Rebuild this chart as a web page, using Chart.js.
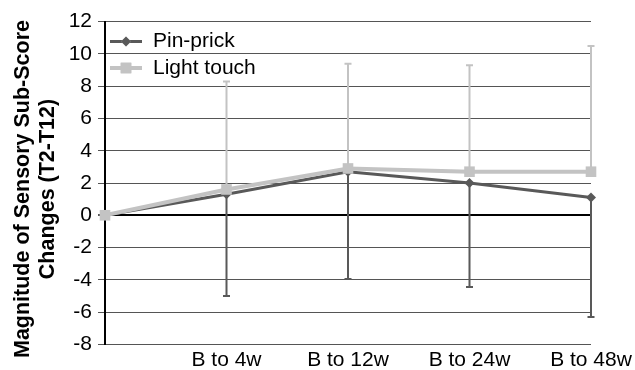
<!DOCTYPE html>
<html>
<head>
<meta charset="utf-8">
<script src="https://cdn.jsdelivr.net/npm/chart.js@4.4.1/dist/chart.umd.min.js"></script>
<style>
  html, body { margin: 0; padding: 0; background: #fff; }
  #wrap { width: 635px; height: 370px; position: relative; }
</style>
</head>
<body>
<div id="wrap"><canvas id="chart" width="635" height="370"></canvas></div>
<script>
// Time points (first one is the baseline, unlabeled)
const categories = ['', 'B to 4w', 'B to 12w', 'B to 24w', 'B to 48w'];

// Mean change in sensory sub-score (T2-T12)
const pinPrick   = [0, 1.3, 2.7, 2.0, 1.1];
const lightTouch = [0, 1.6, 2.9, 2.7, 2.7];

// Standard deviations (pin-prick drawn downward, light touch drawn upward)
const pinPrickSD   = [null, 6.3, 6.65, 6.45, 7.4];
const lightTouchSD = [null, 6.7, 6.5, 6.6, 7.8];

// Y axis range
const yMin = -8, yMax = 12, yStep = 2;

const FONT = "'Liberation Sans', Arial, Helvetica, sans-serif";
const DARK = '#595959';
const LIGHT = '#c3c3c3';

// One-sided error bars
const errorBars = {
  id: 'errorBars',
  beforeDatasetsDraw(chart) {
    const ctx = chart.ctx;
    const x = chart.scales.x, y = chart.scales.y;
    const draw = (vals, sds, dir, color) => {
      ctx.save();
      ctx.strokeStyle = color;
      ctx.lineWidth = 2;
      vals.forEach((v, i) => {
        if (sds[i] == null) return;
        const px = x.getPixelForValue(i);
        const p0 = y.getPixelForValue(v);
        const p1 = y.getPixelForValue(v + dir * sds[i]);
        ctx.beginPath();
        ctx.moveTo(px, p0); ctx.lineTo(px, p1);
        ctx.moveTo(px - 3.5, p1); ctx.lineTo(px + 3.5, p1);
        ctx.stroke();
      });
      ctx.restore();
    };
    draw(lightTouch, lightTouchSD, 1, LIGHT);
    draw(pinPrick, pinPrickSD, -1, DARK);
  }
};

// Legend inside the plot and the two-line y axis title
const decorations = {
  id: 'decorations',
  afterDraw(chart) {
    const ctx = chart.ctx;
    ctx.save();
    // y axis title
    ctx.fillStyle = '#000';
    ctx.font = 'bold 21.5px ' + FONT;
    ctx.textAlign = 'center';
    ctx.textBaseline = 'middle';
    ctx.translate(36, 189);
    ctx.rotate(-Math.PI / 2);
    ctx.fillText('Magnitude of Sensory Sub-Score', 0, -12.5);
    ctx.fillText('Changes (T2-T12)', 0, 12.5);
    ctx.restore();

    // legend entries
    const rows = [{ ds: chart.data.datasets[0], y: 41.5 }, { ds: chart.data.datasets[1], y: 68 }];
    rows.forEach(r => {
      const ds = r.ds;
      ctx.save();
      ctx.strokeStyle = ds.borderColor;
      ctx.lineWidth = ds.borderWidth;
      ctx.beginPath();
      ctx.moveTo(110, r.y); ctx.lineTo(142, r.y);
      ctx.stroke();
      Chart.helpers.drawPoint(ctx, {
        pointStyle: ds.pointStyle,
        radius: ds.pointRadius,
        borderWidth: 0
      }, 126, r.y);
      ctx.fillStyle = ds.pointBackgroundColor;
      ctx.fill();
      ctx.fillStyle = '#000';
      ctx.font = '21px ' + FONT;
      ctx.textAlign = 'left';
      ctx.textBaseline = 'middle';
      ctx.fillText(ds.label, 153, r.y);
      ctx.restore();
    });
  }
};

new Chart(document.getElementById('chart'), {
  type: 'line',
  data: {
    labels: categories,
    datasets: [
      {
        label: 'Pin-prick',
        data: pinPrick,
        borderColor: DARK,
        backgroundColor: DARK,
        pointBackgroundColor: DARK,
        pointBorderColor: DARK,
        borderWidth: 3,
        pointStyle: 'rectRot',
        pointRadius: 5,
        pointBorderWidth: 0,
        order: 1,
        clip: false
      },
      {
        label: 'Light touch',
        data: lightTouch,
        borderColor: LIGHT,
        backgroundColor: LIGHT,
        pointBackgroundColor: LIGHT,
        pointBorderColor: LIGHT,
        borderWidth: 4,
        pointStyle: 'rect',
        pointRadius: 7.5,
        pointBorderWidth: 0,
        order: 0,
        clip: false
      }
    ]
  },
  options: {
    responsive: false,
    animation: false,
    events: [],
    layout: { padding: { top: 21.7, right: 44, bottom: 0, left: 0 } },
    plugins: { legend: { display: false }, tooltip: { enabled: false } },
    elements: { line: { tension: 0 } },
    scales: {
      x: {
        type: 'category',
        offset: false,
        grid: { display: false, drawTicks: false },
        border: { display: false },
        ticks: {
          color: '#000',
          font: { family: FONT, size: 21 },
          padding: 3,
          maxRotation: 0,
          autoSkip: false
        },
        afterFit(scale) { scale.height = 25.7; }
      },
      y: {
        min: yMin,
        max: yMax,
        grid: {
          color: ctx => (ctx.tick && ctx.tick.value === 0) ? '#000' : '#555',
          lineWidth: ctx => (ctx.tick && ctx.tick.value === 0) ? 2 : 1,
          tickLength: 7,
          tickColor: '#555'
        },
        border: { display: true, color: '#000', width: 2 },
        ticks: {
          stepSize: yStep,
          color: '#000',
          font: { family: FONT, size: 21 },
          padding: 6
        },
        afterFit(scale) { scale.width = 105; }
      }
    }
  },
  plugins: [errorBars, decorations]
});
</script>
</body>
</html>
